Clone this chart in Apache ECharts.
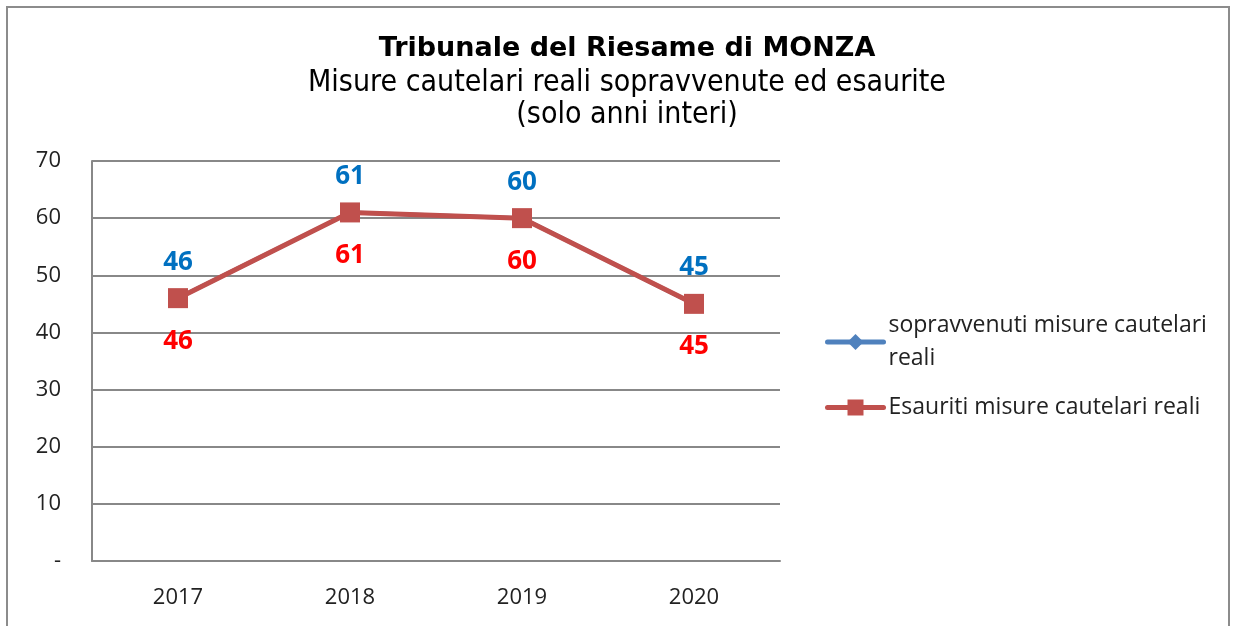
<!DOCTYPE html>
<html>
<head>
<meta charset="utf-8">
<script src="https://cdn.jsdelivr.net/npm/echarts@6/dist/echarts.min.js"></script>
<style>html,body{margin:0;padding:0;background:#fff;}#c{width:1237px;height:626px;}</style>
</head>
<body>
<div id="c"></div>
<script>
const categories = ['2017', '2018', '2019', '2020'];
const sopravvenuti = [46, 61, 60, 45];
const esauriti = [46, 61, 60, 45];
const yTicks = [0, 10, 20, 30, 40, 50, 60, 70];

const chart = echarts.init(document.getElementById('c'));
const lab = "'Open Sans', 'Liberation Sans', sans-serif";
chart.setOption({
  animation: false,
  backgroundColor: '#fff',
  graphic: [{
    type: 'rect', shape: {x: 7, y: 7, width: 1222, height: 640},
    style: {fill: 'none', stroke: '#8c8c8c', lineWidth: 2}, silent: true
  }],
  title: {
    text: 'Tribunale del Riesame di MONZA',
    subtext: 'Misure cautelari reali sopravvenute ed esaurite\n(solo anni interi)',
    left: 622, top: 28, textAlign: 'center',
    textStyle: {fontFamily: 'DejaVu Sans', fontWeight: 'bold', fontSize: 27, color: '#000', lineHeight: 32},
    subtextStyle: {fontFamily: 'DejaVu Sans Condensed', fontSize: 30, color: '#000', lineHeight: 32},
    itemGap: 2
  },
  legend: {
    orient: 'vertical', left: 820, top: 304,
    itemWidth: 56, itemHeight: 20, itemGap: 16,
    textStyle: {fontFamily: lab, fontSize: 23, color: '#222', lineHeight: 33},
    data: [
      {name: 'sopravvenuti misure cautelari\nreali', lineStyle: {width: 5, cap: 'round'}},
      {name: 'Esauriti misure cautelari reali', lineStyle: {width: 5, cap: 'round'}}
    ]
  },
  grid: {left: 92, top: 161, width: 688, height: 400, containLabel: false},
  xAxis: {
    type: 'category', data: categories, boundaryGap: true,
    axisLine: {lineStyle: {color: '#888', width: 2}},
    axisTick: {show: false},
    axisLabel: {fontFamily: lab, fontSize: 22, color: '#222', margin: 26}
  },
  yAxis: {
    type: 'value', min: 0, max: 70, interval: 10,
    axisLine: {show: true, lineStyle: {color: '#888', width: 2}},
    axisTick: {show: false},
    splitLine: {lineStyle: {color: '#888', width: 2}},
    axisLabel: {fontFamily: lab, fontSize: 22, color: '#222', margin: 31,
      formatter: v => yTicks.includes(v) ? (v === 0 ? '-' : String(v)) : ''}
  },
  series: [
    {
      name: 'sopravvenuti misure cautelari\nreali', type: 'line', data: sopravvenuti,
      symbol: 'diamond', symbolSize: 14,
      lineStyle: {color: '#4F81BD', width: 4}, itemStyle: {color: '#4F81BD'},
      label: {show: true, position: 'top', distance: 16, color: '#0070C0',
        fontFamily: lab, fontWeight: 'bold', fontSize: 26}
    },
    {
      name: 'Esauriti misure cautelari reali', type: 'line', data: esauriti,
      symbol: 'rect', symbolSize: 20,
      lineStyle: {color: '#C0504D', width: 5}, itemStyle: {color: '#C0504D'},
      label: {show: true, position: 'bottom', distance: 20, color: '#FF0000',
        fontFamily: lab, fontWeight: 'bold', fontSize: 26}
    }
  ]
});
</script>
</body>
</html>
